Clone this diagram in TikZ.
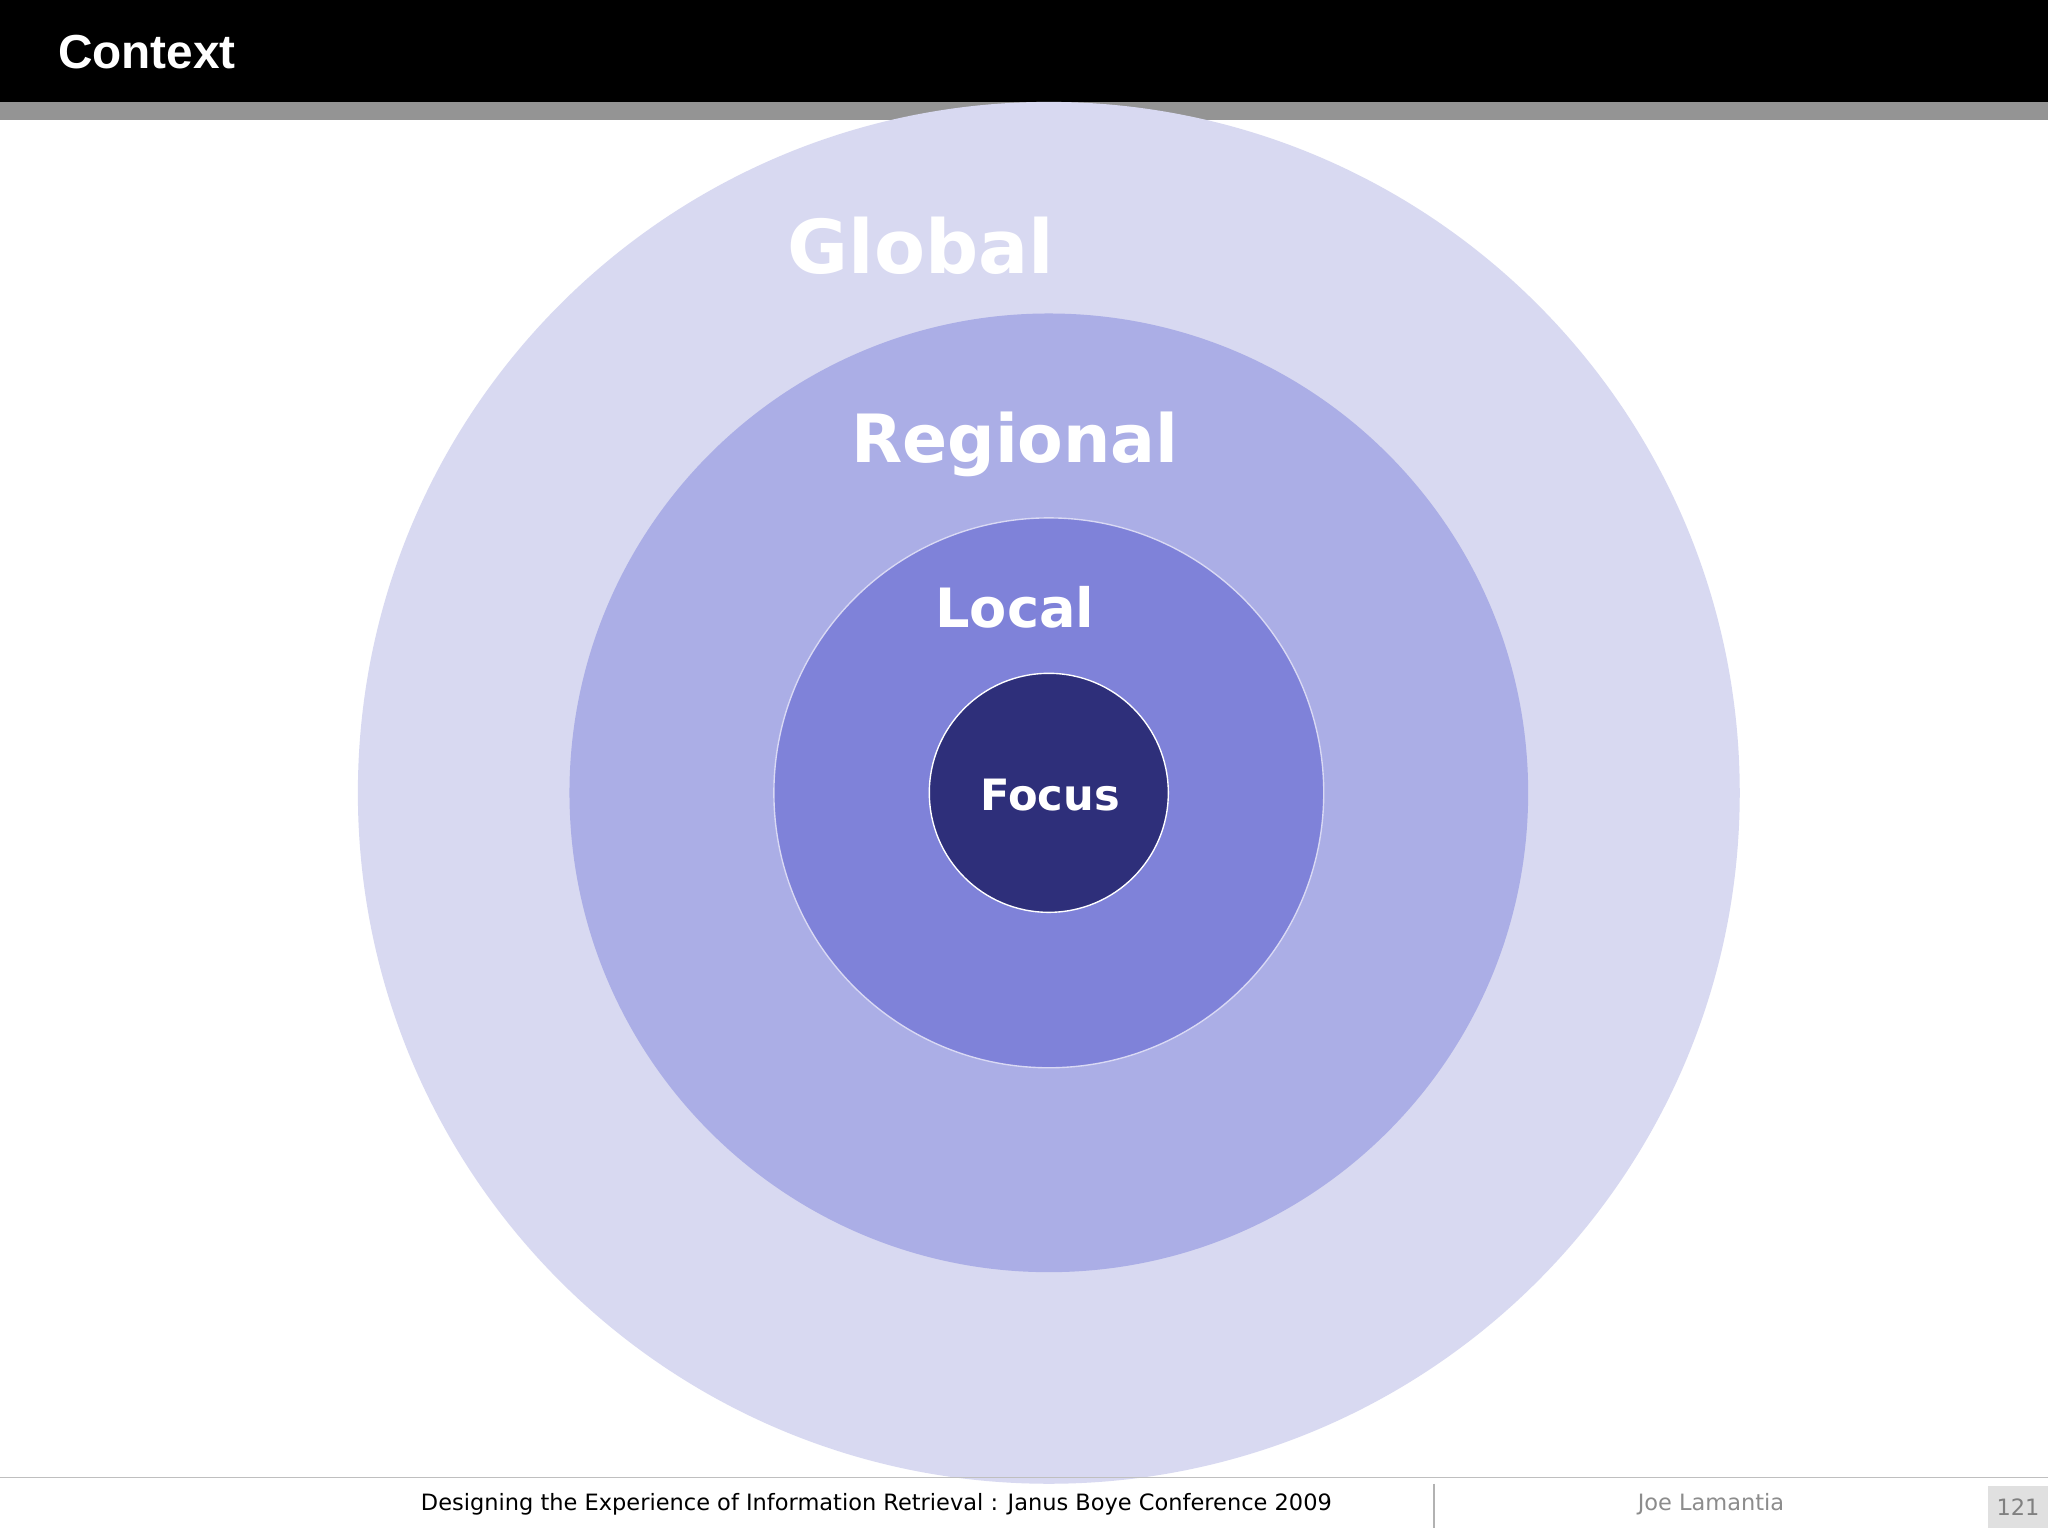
\documentclass[tikz,border=0pt]{standalone}
\usepackage{fontspec}
\setmainfont{DejaVu Sans}
\newfontfamily\hdr{Liberation Sans}
\begin{document}
\begin{tikzpicture}[x=0.1mm,y=-0.1mm,
  ring/.style={circle,inner sep=0pt,anchor=center},
  lbl/.style={text=white,font=\bfseries,anchor=center}]
\useasboundingbox (0,0) rectangle (1568,1176);
\fill[white] (0,0) rectangle (1568,1176);
\fill[black] (0,0) rectangle (1568,78);
\fill[black!42] (0,78) rectangle (1568,92);
\node[anchor=west,text=white,font=\hdr\bfseries\fontsize{10.4pt}{12pt}\selectfont] (title) at (32,40) {Context};
\definecolor{cG}{HTML}{D8D9F1}
\definecolor{cR}{HTML}{ABAEE6}
\definecolor{cL}{HTML}{7F82D9}
\definecolor{cF}{HTML}{2E2F7A}
\coordinate (c) at (803,607);
\fill[cG] (c) circle (529);
\fill[cR] (c) circle (367);
\filldraw[fill=cL,draw=white!70!cL,line width=0.3pt] (c) circle (210.5);
\filldraw[fill=cF,draw=white,line width=0.3pt] (c) circle (91.5);
\node[lbl,font=\bfseries\fontsize{16.2pt}{18pt}\selectfont] (global) at (705,188) {Global};
\node[lbl,font=\bfseries\fontsize{14.5pt}{16pt}\selectfont] (regional) at (777,340) {Regional};
\node[lbl,font=\bfseries\fontsize{11.8pt}{13pt}\selectfont] (local) at (777,465) {Local};
\node[lbl,font=\bfseries\fontsize{9.4pt}{11pt}\selectfont] (focus) at (804,609) {Focus};
\draw[black!25,line width=0.3pt] (0,1131) -- (1568,1131);
\draw[black!30,line width=0.3pt] (1098,1136) -- (1098,1170);
\node[anchor=center,font=\fontsize{4.9pt}{6pt}\selectfont] (foot) at (671,1152) {Designing the Experience of Information Retrieval : Janus Boye Conference 2009};
\node[anchor=center,text=black!45,font=\fontsize{4.9pt}{6pt}\selectfont] (author) at (1310,1152) {Joe Lamantia};
\fill[black!12] (1522,1138) rectangle (1568,1170);
\node[anchor=center,text=black!50,font=\fontsize{4.9pt}{6pt}\selectfont] (page) at (1545,1154) {121};
\end{tikzpicture}
\end{document}
